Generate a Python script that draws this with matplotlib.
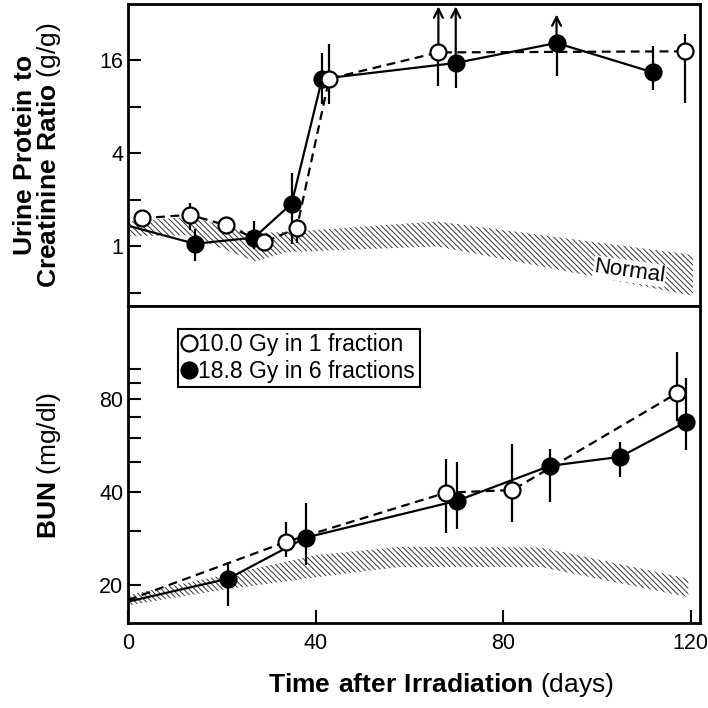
import numpy as np
import matplotlib.pyplot as plt
from matplotlib.lines import Line2D

plt.rcParams['font.family'] = 'Liberation Sans'
plt.rcParams['mathtext.fontset'] = 'custom'
plt.rcParams['mathtext.rm'] = 'Liberation Sans'
plt.rcParams['mathtext.bf'] = 'Liberation Sans:bold'
plt.rcParams['hatch.linewidth'] = 0.7

nan = np.nan

# Urine protein to creatinine ratio (g/g), 10.0 Gy in 1 fraction (open)
upc_open_days = [2.9, 13.2, 20.9, 28.9, 36.0, 42.9, 66.2, 118.8]
upc_open = [1.52, 1.60, 1.37, 1.06, 1.31, 12.1, 17.9, 18.2]
upc_open_lo = [1.52, 1.28, 1.37, 1.06, 1.05, 8.3, 10.8, 8.4]
upc_open_hi = [1.52, 1.92, 1.37, 1.06, 1.50, 20.2, 17.9, 23.5]
upc_open_arrow = [nan, nan, nan, nan, nan, nan, 35.5, nan]

# 18.8 Gy in 6 fractions (filled); day 0 only starts the line
upc_fill_days = [0, 14.3, 26.9, 34.9, 41.4, 69.9, 91.4, 112.0]
upc_fill = [1.36, 1.04, 1.14, 1.89, 12.1, 15.3, 20.6, 13.3]
upc_fill_lo = [1.36, 0.80, 0.96, 1.03, 8.3, 10.6, 12.7, 10.3]
upc_fill_hi = [1.36, 1.29, 1.45, 2.97, 17.7, 15.3, 20.6, 19.6]
upc_fill_arrow = [nan, nan, nan, nan, nan, 35.5, 31.5, nan]

# normal range, urine protein
upc_norm_days = [0, 13, 27, 34, 66, 120.5]
upc_norm_hi = [1.45, 1.55, 1.22, 1.24, 1.45, 0.88]
upc_norm_lo = [1.16, 1.18, 0.80, 0.92, 1.00, 0.48]

# BUN (mg/dl)
bun_open_days = [0, 33.7, 67.8, 82.0, 117.0]
bun_open = [17.9, 27.6, 39.8, 40.6, 83.3]
bun_open_lo = [17.9, 24.6, 29.4, 31.9, 68.0]
bun_open_hi = [17.9, 31.9, 51.3, 57.2, 113.0]

bun_fill_days = [0, 21.4, 37.9, 70.2, 90.0, 105.0, 119.1]
bun_fill = [17.7, 21.0, 28.5, 37.5, 48.6, 52.0, 67.5]
bun_fill_lo = [17.7, 17.1, 23.2, 30.3, 37.2, 44.6, 54.7]
bun_fill_hi = [17.7, 23.8, 37.0, 50.0, 55.0, 58.0, 93.3]

bun_norm_days = [0, 20, 40, 58, 88, 119.5]
bun_norm_hi = [18.6, 21.5, 25.0, 26.6, 26.5, 21.0]
bun_norm_lo = [17.2, 19.3, 21.2, 22.9, 22.9, 18.3]

labels = ['10.0 Gy in 1 fraction', '18.8 Gy in 6 fractions']


def draw_series(ax, days, vals, lo, hi, filled, arrows=None):
    days = np.array(days)
    vals = np.array(vals)
    err = [vals - np.array(lo), np.array(hi) - vals]
    z = 3 if filled else 4
    ax.errorbar(days, vals, yerr=err, fmt='none', ecolor='black',
                elinewidth=1.6, capsize=0, zorder=z - 0.5)
    start = 1 if days[0] == 0 else 0
    ax.plot(days, vals, color='black', lw=1.6,
            ls='-' if filled else (0, (4, 2.5)),
            marker='o', ms=11.5, mew=1.6, mec='black',
            mfc='black' if filled else 'white',
            markevery=list(range(start, len(days))), zorder=z)
    if arrows is not None:
        for d, v, top in zip(days, vals, arrows):
            if np.isnan(top):
                continue
            ax.annotate('', xy=(d, top), xytext=(d, v),
                        arrowprops=dict(arrowstyle='->', lw=1.6,
                                        mutation_scale=16,
                                        shrinkA=0, shrinkB=0),
                        zorder=z - 0.5)


def style_axis(ax):
    for s in ax.spines.values():
        s.set_linewidth(2)
    ax.tick_params(which='both', direction='in', length=9.5, width=1.5,
                   labelsize=15.5, right=False, top=False)
    ax.tick_params(axis='y', pad=3.5)
    ax.tick_params(axis='x', pad=7)


fig = plt.figure(figsize=(7.08, 7.08), dpi=100)
ax1 = fig.add_axes([0.1808, 0.5682, 0.8079, 0.4262])
ax2 = fig.add_axes([0.1808, 0.1201, 0.8079, 0.4481])

# top panel
ax1.fill_between(upc_norm_days, upc_norm_lo, upc_norm_hi, facecolor='none',
                 edgecolor='#333333', hatch='\\\\\\\\\\\\', linewidth=0,
                 zorder=1)
draw_series(ax1, upc_fill_days, upc_fill, upc_fill_lo, upc_fill_hi, True,
            upc_fill_arrow)
draw_series(ax1, upc_open_days, upc_open, upc_open_lo, upc_open_hi, False,
            upc_open_arrow)
ax1.text(107, 0.69, 'Normal', fontsize=16, rotation=-8, ha='center',
         va='center', bbox=dict(facecolor='white', edgecolor='none', pad=0.5),
         zorder=2)
ax1.set_yscale('log', base=2)
ax1.set_ylim(0.414, 36.8)
ax1.set_xlim(0, 122)
ax1.set_yticks([0.5, 1, 2, 4, 8, 16])
ax1.set_yticklabels(['', '1', '', '4', '', '16'])
ax1.set_yticks([], minor=True)
style_axis(ax1)
ax1.tick_params(axis='x', which='both', bottom=False, labelbottom=False)

# bottom panel
ax2.fill_between(bun_norm_days, bun_norm_lo, bun_norm_hi, facecolor='none',
                 edgecolor='#333333', hatch='\\\\\\\\\\\\', linewidth=0,
                 zorder=1)
draw_series(ax2, bun_fill_days, bun_fill, bun_fill_lo, bun_fill_hi, True)
draw_series(ax2, bun_open_days, bun_open, bun_open_lo, bun_open_hi, False)
ax2.set_yscale('log')
ax2.set_ylim(15.1, 160)
ax2.set_xlim(0, 122)
ax2.set_yticks([20, 40, 80])
ax2.set_yticklabels(['20', '40', '80'])
ax2.set_yticks([30, 50, 60, 70, 90, 100], minor=True)
ax2.yaxis.set_minor_formatter(plt.NullFormatter())
ax2.set_xticks([0, 40, 80, 120])
ax2.set_xticks([], minor=True)
style_axis(ax2)

handles = [Line2D([], [], ls='none', marker='o', ms=11.5, mew=1.6,
                  mec='black', mfc='white'),
           Line2D([], [], ls='none', marker='o', ms=11.5, mew=1.6,
                  mec='black', mfc='black')]
leg = ax2.legend(handles, labels, loc='upper left',
                 bbox_to_anchor=(0.087, 0.927), borderaxespad=0,
                 fontsize=16.5, handlelength=0.6, handletextpad=0.1,
                 borderpad=0.2, labelspacing=0.15, fancybox=False,
                 framealpha=1, edgecolor='black')
leg.get_frame().set_linewidth(1.5)

# axis labels
fig.text(25 / 708, 1 - 155 / 708, r'$\bf{Urine\ Protein\ to}$',
         rotation=90, ha='center', va='center', fontsize=19)
fig.text(49 / 708, 1 - 155 / 708, r'$\bf{Creatinine\ Ratio}$ (g/g)',
         rotation=90, ha='center', va='center', fontsize=19)
fig.text(49 / 708, 1 - 466 / 708, r'$\bf{BUN}$ (mg/dl)',
         rotation=90, ha='center', va='center', fontsize=19)
fig.text(441 / 708, 1 - 685 / 708, r'$\bf{Time\ after\ Irradiation}$ (days)',
         ha='center', va='center', fontsize=19)

fig.savefig('out.png', dpi=100)
